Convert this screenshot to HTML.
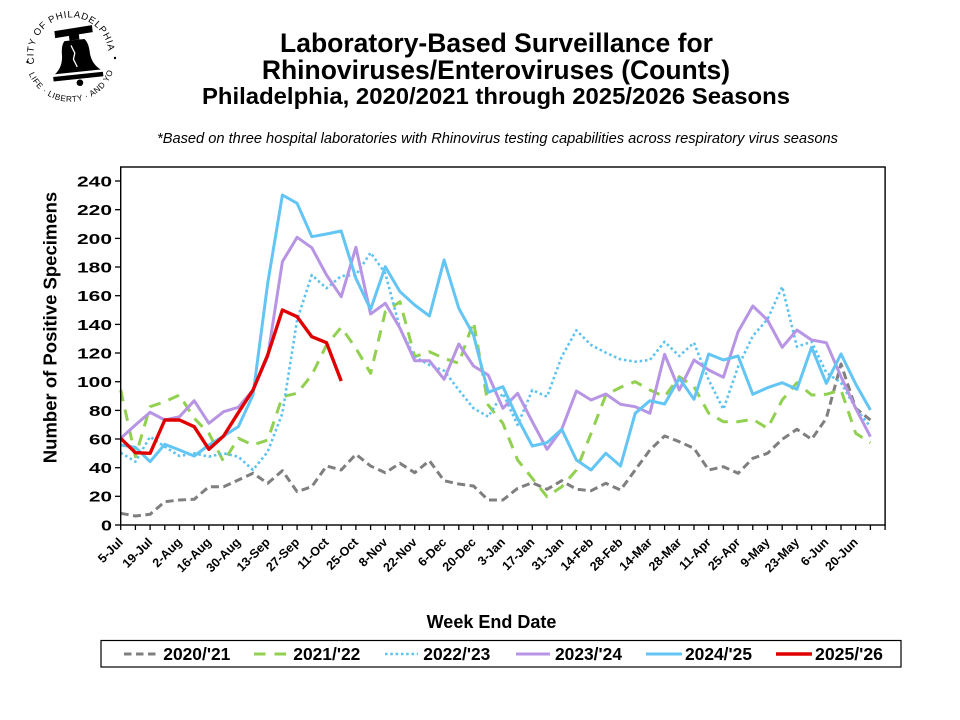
<!DOCTYPE html>
<html>
<head>
<meta charset="utf-8">
<style>
  html, body { margin: 0; padding: 0; background: #ffffff; }
  svg { display: block; }
  text { font-family: "Liberation Sans", Arial, sans-serif; }
</style>
</head>
<body>
<svg width="960" height="720" viewBox="0 0 960 720" xmlns="http://www.w3.org/2000/svg">
  <rect x="0" y="0" width="960" height="720" fill="#ffffff"/>

  <!-- Seal / logo -->
  <defs>
    <path id="sealTop" d="M 34.8 64.7 A 37.5 37.5 0 1 1 107.2 64.7"/>
    <path id="sealBot" d="M 28.5 73.0 A 45 45 0 0 0 113.5 70.0"/>
  </defs>
  <g fill="#000">
    <text font-size="9.5" letter-spacing="0.75"><textPath href="#sealTop" startOffset="1">CITY OF PHILADELPHIA</textPath></text>
    <text font-size="8.2" letter-spacing="0.55"><textPath href="#sealBot" startOffset="1">LIFE · LIBERTY · AND YOU</textPath></text>
    <circle cx="27.5" cy="62" r="1.2"/>
    <circle cx="115" cy="58" r="1.2"/>
    <!-- bell -->
    <g transform="rotate(-6 76 55)">
      <polygon points="57,29 95,27 95,34 57,36"/>
      <rect x="71" y="34" width="10" height="6"/>
      <path d="M 66 40 Q 62 44 62 55 Q 61 66 53 72 L 99 72 Q 91 66 90 55 Q 90 44 86 40 Z"/>
      <path d="M 51 74.5 L 101 74.5 L 101 79 L 51 79 Z"/>
      <path d="M 72 45 L 75 53 L 73 59 L 76 67" stroke="#fff" stroke-width="1.3" fill="none"/>
      <circle cx="77" cy="83" r="3.3"/>
    </g>
  </g>

  <!-- Titles -->
  <g fill="#000" font-weight="bold" text-anchor="middle">
    <text x="496.5" y="52" font-size="26.5">Laboratory-Based Surveillance for</text>
    <text x="496" y="79" font-size="26.5">Rhinoviruses/Enteroviruses (Counts)</text>
    <text x="496" y="104" font-size="23" textLength="588" lengthAdjust="spacingAndGlyphs">Philadelphia, 2020/2021 through 2025/2026 Seasons</text>
  </g>
  <text x="497.5" y="143" font-size="14.6" font-style="italic" text-anchor="middle" fill="#000" textLength="681" lengthAdjust="spacingAndGlyphs">*Based on three hospital laboratories with Rhinovirus testing capabilities across respiratory virus seasons</text>

  <!-- Y axis title -->
  <text transform="translate(56.5,327.5) rotate(-90)" font-size="18.5" font-weight="bold" text-anchor="middle" fill="#000">Number of Positive Specimens</text>

  <!-- Y tick labels -->
  <g font-size="15" font-weight="bold" text-anchor="end" fill="#000">
    <text x="112" y="530.4" textLength="11" lengthAdjust="spacingAndGlyphs">0</text>
    <text x="112" y="501.7" textLength="23" lengthAdjust="spacingAndGlyphs">20</text>
    <text x="112" y="473.1" textLength="23" lengthAdjust="spacingAndGlyphs">40</text>
    <text x="112" y="444.4" textLength="23" lengthAdjust="spacingAndGlyphs">60</text>
    <text x="112" y="415.8" textLength="23" lengthAdjust="spacingAndGlyphs">80</text>
    <text x="112" y="387.1" textLength="35" lengthAdjust="spacingAndGlyphs">100</text>
    <text x="112" y="358.4" textLength="35" lengthAdjust="spacingAndGlyphs">120</text>
    <text x="112" y="329.8" textLength="35" lengthAdjust="spacingAndGlyphs">140</text>
    <text x="112" y="301.1" textLength="35" lengthAdjust="spacingAndGlyphs">160</text>
    <text x="112" y="272.4" textLength="35" lengthAdjust="spacingAndGlyphs">180</text>
    <text x="112" y="243.8" textLength="35" lengthAdjust="spacingAndGlyphs">200</text>
    <text x="112" y="215.1" textLength="35" lengthAdjust="spacingAndGlyphs">220</text>
    <text x="112" y="186.4" textLength="35" lengthAdjust="spacingAndGlyphs">240</text>
  </g>

  <!-- Y ticks -->
  <g stroke="#000" stroke-width="1.3">
    <line x1="115" y1="525" x2="120.7" y2="525"/>
    <line x1="115" y1="496.3" x2="120.7" y2="496.3"/>
    <line x1="115" y1="467.7" x2="120.7" y2="467.7"/>
    <line x1="115" y1="439" x2="120.7" y2="439"/>
    <line x1="115" y1="410.4" x2="120.7" y2="410.4"/>
    <line x1="115" y1="381.7" x2="120.7" y2="381.7"/>
    <line x1="115" y1="353" x2="120.7" y2="353"/>
    <line x1="115" y1="324.4" x2="120.7" y2="324.4"/>
    <line x1="115" y1="295.7" x2="120.7" y2="295.7"/>
    <line x1="115" y1="267" x2="120.7" y2="267"/>
    <line x1="115" y1="238.4" x2="120.7" y2="238.4"/>
    <line x1="115" y1="209.7" x2="120.7" y2="209.7"/>
    <line x1="115" y1="181" x2="120.7" y2="181"/>
  </g>

  <!-- X ticks -->
  <g stroke="#000" stroke-width="1.3">
    <line x1="120.7" y1="525" x2="120.7" y2="530"/><line x1="135.4" y1="525" x2="135.4" y2="530"/>
    <line x1="150.1" y1="525" x2="150.1" y2="530"/><line x1="164.8" y1="525" x2="164.8" y2="530"/>
    <line x1="179.5" y1="525" x2="179.5" y2="530"/><line x1="194.2" y1="525" x2="194.2" y2="530"/>
    <line x1="208.9" y1="525" x2="208.9" y2="530"/><line x1="223.6" y1="525" x2="223.6" y2="530"/>
    <line x1="238.3" y1="525" x2="238.3" y2="530"/><line x1="253" y1="525" x2="253" y2="530"/>
    <line x1="267.7" y1="525" x2="267.7" y2="530"/><line x1="282.4" y1="525" x2="282.4" y2="530"/>
    <line x1="297.1" y1="525" x2="297.1" y2="530"/><line x1="311.8" y1="525" x2="311.8" y2="530"/>
    <line x1="326.5" y1="525" x2="326.5" y2="530"/><line x1="341.2" y1="525" x2="341.2" y2="530"/>
    <line x1="355.9" y1="525" x2="355.9" y2="530"/><line x1="370.6" y1="525" x2="370.6" y2="530"/>
    <line x1="385.3" y1="525" x2="385.3" y2="530"/><line x1="400" y1="525" x2="400" y2="530"/>
    <line x1="414.7" y1="525" x2="414.7" y2="530"/><line x1="429.4" y1="525" x2="429.4" y2="530"/>
    <line x1="444.1" y1="525" x2="444.1" y2="530"/><line x1="458.8" y1="525" x2="458.8" y2="530"/>
    <line x1="473.5" y1="525" x2="473.5" y2="530"/><line x1="488.2" y1="525" x2="488.2" y2="530"/>
    <line x1="502.9" y1="525" x2="502.9" y2="530"/><line x1="517.6" y1="525" x2="517.6" y2="530"/>
    <line x1="532.3" y1="525" x2="532.3" y2="530"/><line x1="547" y1="525" x2="547" y2="530"/>
    <line x1="561.7" y1="525" x2="561.7" y2="530"/><line x1="576.4" y1="525" x2="576.4" y2="530"/>
    <line x1="591.1" y1="525" x2="591.1" y2="530"/><line x1="605.8" y1="525" x2="605.8" y2="530"/>
    <line x1="620.5" y1="525" x2="620.5" y2="530"/><line x1="635.2" y1="525" x2="635.2" y2="530"/>
    <line x1="649.9" y1="525" x2="649.9" y2="530"/><line x1="664.6" y1="525" x2="664.6" y2="530"/>
    <line x1="679.3" y1="525" x2="679.3" y2="530"/><line x1="694" y1="525" x2="694" y2="530"/>
    <line x1="708.7" y1="525" x2="708.7" y2="530"/><line x1="723.4" y1="525" x2="723.4" y2="530"/>
    <line x1="738.1" y1="525" x2="738.1" y2="530"/><line x1="752.8" y1="525" x2="752.8" y2="530"/>
    <line x1="767.5" y1="525" x2="767.5" y2="530"/><line x1="782.2" y1="525" x2="782.2" y2="530"/>
    <line x1="796.9" y1="525" x2="796.9" y2="530"/><line x1="811.6" y1="525" x2="811.6" y2="530"/>
    <line x1="826.3" y1="525" x2="826.3" y2="530"/><line x1="841" y1="525" x2="841" y2="530"/>
    <line x1="855.7" y1="525" x2="855.7" y2="530"/><line x1="870.4" y1="525" x2="870.4" y2="530"/>
    <line x1="885.1" y1="525" x2="885.1" y2="530"/>
  </g>

  <!-- X labels -->
  <g font-size="12.5" font-weight="bold" text-anchor="end" fill="#000">
    <text transform="translate(123.7,543) rotate(-45)">5-Jul</text>
    <text transform="translate(153.1,543) rotate(-45)">19-Jul</text>
    <text transform="translate(182.5,543) rotate(-45)">2-Aug</text>
    <text transform="translate(211.9,543) rotate(-45)">16-Aug</text>
    <text transform="translate(241.3,543) rotate(-45)">30-Aug</text>
    <text transform="translate(270.7,543) rotate(-45)">13-Sep</text>
    <text transform="translate(300.1,543) rotate(-45)">27-Sep</text>
    <text transform="translate(329.5,543) rotate(-45)">11-Oct</text>
    <text transform="translate(358.9,543) rotate(-45)">25-Oct</text>
    <text transform="translate(388.3,543) rotate(-45)">8-Nov</text>
    <text transform="translate(417.7,543) rotate(-45)">22-Nov</text>
    <text transform="translate(447.1,543) rotate(-45)">6-Dec</text>
    <text transform="translate(476.5,543) rotate(-45)">20-Dec</text>
    <text transform="translate(505.9,543) rotate(-45)">3-Jan</text>
    <text transform="translate(535.3,543) rotate(-45)">17-Jan</text>
    <text transform="translate(564.7,543) rotate(-45)">31-Jan</text>
    <text transform="translate(594.1,543) rotate(-45)">14-Feb</text>
    <text transform="translate(623.5,543) rotate(-45)">28-Feb</text>
    <text transform="translate(652.9,543) rotate(-45)">14-Mar</text>
    <text transform="translate(682.3,543) rotate(-45)">28-Mar</text>
    <text transform="translate(711.7,543) rotate(-45)">11-Apr</text>
    <text transform="translate(741.1,543) rotate(-45)">25-Apr</text>
    <text transform="translate(770.5,543) rotate(-45)">9-May</text>
    <text transform="translate(799.9,543) rotate(-45)">23-May</text>
    <text transform="translate(829.3,543) rotate(-45)">6-Jun</text>
    <text transform="translate(858.7,543) rotate(-45)">20-Jun</text>
  </g>

  <!-- Series -->
  <g fill="none" stroke-linejoin="round">
    <!-- 2020/'21 gray dashed -->
    <polyline stroke="#7f7f7f" stroke-width="3" stroke-dasharray="8,4.5" points="120.7,513.3 135.4,516 150.1,514.3 164.8,501.7 179.5,500 194.2,499.3 208.9,486.7 223.6,486.7 238.3,480 253,473.3 267.7,483.3 282.4,470.7 297.1,491.7 311.8,486.7 326.5,466 341.2,470 355.9,454.3 370.6,466 385.3,472.7 400,463.3 414.7,472.7 429.4,460.7 444.1,480.7 458.8,484 473.5,486 488.2,500 502.9,500 517.6,488.3 532.3,482.7 547,489.3 561.7,480.7 576.4,489.3 591.1,490.7 605.8,483.3 620.5,490 635.2,470 649.9,450 664.6,436 679.3,441.7 694,448.3 708.7,470 723.4,466.7 738.1,473.3 752.8,458.3 767.5,453.3 782.2,439.3 796.9,429.3 811.6,439.3 826.3,418.3 841,364 855.7,408.3 870.4,420"/>
    <!-- 2021/'22 green dashed -->
    <polyline stroke="#92d050" stroke-width="3" stroke-dasharray="11.5,8.5" points="120.7,390 135.4,456.7 150.1,406.7 164.8,401.7 179.5,395 194.2,418.3 208.9,433.3 223.6,461.7 238.3,438.3 253,445 267.7,440 282.4,396.7 297.1,393.3 311.8,375 326.5,345 341.2,327.3 355.9,348.3 370.6,373.3 385.3,311.7 400,301.7 414.7,356.7 429.4,351.7 444.1,358.3 458.8,363.3 473.5,321.7 488.2,405 502.9,423.3 517.6,460 532.3,478.3 547,496.7 561.7,486.7 576.4,470 591.1,433.3 605.8,395 620.5,387.3 635.2,381.7 649.9,390 664.6,396.7 679.3,376.7 694,386.7 708.7,413.3 723.4,421.7 738.1,421.7 752.8,419.3 767.5,428.3 782.2,400 796.9,382.7 811.6,395 826.3,394.3 841,390 855.7,433.3 870.4,442.7"/>
    <!-- 2022/'23 dotted light blue -->
    <polyline stroke="#5cc3f0" stroke-width="2.6" stroke-dasharray="2.5,2.8" points="120.7,452.7 135.4,461.7 150.1,436.7 164.8,446.7 179.5,456 194.2,453.3 208.9,456.7 223.6,453.3 238.3,456.7 253,470 267.7,451.7 282.4,413.3 297.1,320 311.8,275 326.5,288.3 341.2,276 355.9,275 370.6,252.7 385.3,273.3 400,328.3 414.7,356.7 429.4,365 444.1,370.7 458.8,390 473.5,408.3 488.2,416.7 502.9,393.3 517.6,425 532.3,390 547,396.7 561.7,356.7 576.4,330.3 591.1,345 605.8,352.7 620.5,359.3 635.2,361.7 649.9,360 664.6,341.7 679.3,356 694,342.7 708.7,380 723.4,409.3 738.1,366.7 752.8,336 767.5,319.3 782.2,286.7 796.9,346.7 811.6,341.7 826.3,372.7 841,382.7 855.7,408.3 870.4,426.7"/>
    <!-- 2023/'24 purple -->
    <polyline stroke="#b794e4" stroke-width="3" points="120.7,438.3 135.4,425 150.1,412.3 164.8,420 179.5,416.7 194.2,400.7 208.9,423.3 223.6,411.7 238.3,407.3 253,390 267.7,356.7 282.4,261.7 297.1,237.3 311.8,247.7 326.5,275 341.2,296.7 355.9,247.3 370.6,314 385.3,303.3 400,328.3 414.7,360.7 429.4,360.7 444.1,379.3 458.8,344 473.5,366 488.2,375 502.9,408.3 517.6,393.3 532.3,421.7 547,449.3 561.7,429.3 576.4,391 591.1,400 605.8,394 620.5,404.3 635.2,406.7 649.9,413.3 664.6,354.3 679.3,390 694,360 708.7,370 723.4,377.3 738.1,331.7 752.8,306 767.5,320 782.2,347.3 796.9,330 811.6,340 826.3,342.7 841,376.7 855.7,408.3 870.4,436.7"/>
    <!-- 2024/'25 blue -->
    <polyline stroke="#63c5f4" stroke-width="3" points="120.7,445 135.4,447.3 150.1,461.7 164.8,444.3 179.5,450 194.2,456 208.9,445 223.6,436 238.3,426.7 253,395 267.7,283.3 282.4,195 297.1,203.3 311.8,236.7 326.5,234 341.2,231 355.9,278.3 370.6,309.3 385.3,266.7 400,291.7 414.7,305 429.4,316 444.1,260 458.8,308.3 473.5,335 488.2,392.3 502.9,386.7 517.6,418.3 532.3,446 547,442.7 561.7,429.3 576.4,460 591.1,470 605.8,453.3 620.5,466 635.2,413.3 649.9,400.7 664.6,404 679.3,378.3 694,399.3 708.7,354 723.4,360 738.1,356 752.8,394.3 767.5,387.7 782.2,382.7 796.9,389.3 811.6,347.3 826.3,383.3 841,354 855.7,384 870.4,410"/>
    <!-- 2025/'26 red -->
    <polyline stroke="#e00000" stroke-width="3.4" points="120.7,438.3 135.4,452.7 150.1,453.3 164.8,420 179.5,420 194.2,426.7 208.9,449.3 223.6,436 238.3,412.7 253,390 267.7,355 282.4,310 297.1,316.7 311.8,336.7 326.5,342.7 341.2,381"/>
  </g>

  <!-- Plot frame -->
  <rect x="120.7" y="167" width="764.4" height="358" fill="none" stroke="#000" stroke-width="1.4"/>

  <!-- X axis title -->
  <text x="491.5" y="628" font-size="18" font-weight="bold" text-anchor="middle" fill="#000">Week End Date</text>

  <!-- Legend -->
  <rect x="101" y="640.5" width="800" height="26.5" fill="#fff" stroke="#000" stroke-width="1.2"/>
  <g fill="none">
    <line x1="124" y1="654" x2="157" y2="654" stroke="#7f7f7f" stroke-width="3" stroke-dasharray="7.5,4.5"/>
    <line x1="254" y1="654" x2="287" y2="654" stroke="#92d050" stroke-width="3" stroke-dasharray="11.5,9"/>
    <line x1="385" y1="654" x2="418" y2="654" stroke="#5cc3f0" stroke-width="2.6" stroke-dasharray="2.5,2.8"/>
    <line x1="516" y1="654" x2="550" y2="654" stroke="#b794e4" stroke-width="3"/>
    <line x1="646" y1="654" x2="682" y2="654" stroke="#63c5f4" stroke-width="3"/>
    <line x1="776" y1="654" x2="812" y2="654" stroke="#e00000" stroke-width="3.4"/>
  </g>
  <g font-size="17.5" font-weight="bold" fill="#000">
    <text x="163.3" y="660" textLength="67" lengthAdjust="spacingAndGlyphs">2020/'21</text>
    <text x="293.3" y="660" textLength="67" lengthAdjust="spacingAndGlyphs">2021/'22</text>
    <text x="423.3" y="660" textLength="67" lengthAdjust="spacingAndGlyphs">2022/'23</text>
    <text x="555" y="660" textLength="67" lengthAdjust="spacingAndGlyphs">2023/'24</text>
    <text x="685" y="660" textLength="67" lengthAdjust="spacingAndGlyphs">2024/'25</text>
    <text x="815" y="660" textLength="68" lengthAdjust="spacingAndGlyphs">2025/'26</text>
  </g>
</svg>
</body>
</html>
